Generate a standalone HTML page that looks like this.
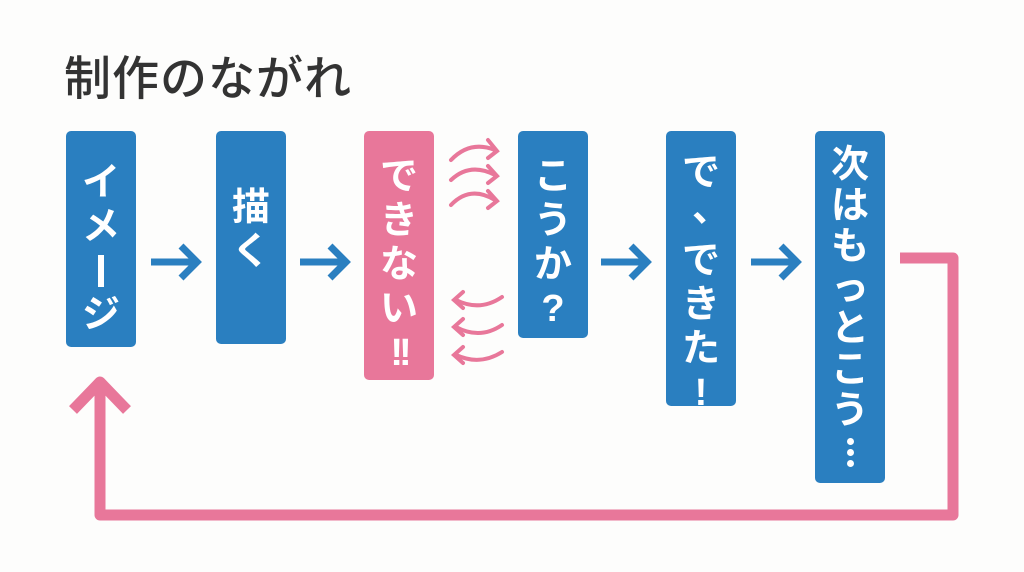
<!DOCTYPE html>
<html><head><meta charset="utf-8"><style>
html,body{margin:0;padding:0;background:#fdfdfc;}
body{width:1024px;height:572px;position:relative;overflow:hidden;font-family:"Liberation Sans","Noto Sans CJK JP",sans-serif;}
.t{position:absolute;left:64px;top:40px;font-size:47px;color:#333;font-weight:500;letter-spacing:1px;}
.b{position:absolute;width:70px;background:#2a7fc0;border-radius:5px;color:#fff;font-weight:bold;font-size:38px;box-sizing:border-box;padding-top:22px;overflow:hidden;}
.b div{height:44px;line-height:44px;text-align:center;position:relative;}
.p{background:#e8779a;}
.bar{position:absolute;left:32px;top:6px;width:6px;height:32px;background:#fff;}
.dot{position:absolute;display:block;left:32px;width:7px;height:7px;border-radius:50%;background:#fff;}
.n div{height:41px;line-height:41px;}
svg{position:absolute;left:0;top:0;}
</style></head><body>
<div class="t">制作のながれ</div>
<div class="b" style="left:66px;top:131px;height:216px;padding-top:30px;"><div>イ</div><div>メ</div><div><span class="bar"></span></div><div>ジ</div></div>
<div class="b" style="left:216px;top:131px;height:213px;padding-top:55px;"><div>描</div><div>く</div></div>
<div class="b p" style="left:364px;top:131px;height:249px;padding-top:24px;"><div>で</div><div>き</div><div>な</div><div>い</div><div style="letter-spacing:-4px">!&#8203;!</div></div>
<div class="b" style="left:518px;top:131px;height:207px;padding-top:24px;"><div>こ</div><div>う</div><div>か</div><div>?</div></div>
<div class="b" style="left:666px;top:131px;height:275px;padding-top:20px;"><div>で</div><div><span style="position:absolute;left:26px;top:-8px">、</span></div><div>で</div><div>き</div><div>た</div><div>!</div></div>
<div class="b n" style="left:815px;top:131px;height:352px;padding-top:14px;"><div>次</div><div>は</div><div>も</div><div>っ</div><div>と</div><div>こ</div><div>う</div><div style="height:40px"><span class="dot" style="top:6px"></span><span class="dot" style="top:17px"></span><span class="dot" style="top:28px"></span></div></div>
<svg width="1024" height="572" fill="none">
<g stroke="#2a7fc0" stroke-width="7">
<path d="M151 262H196M181 246L197 262L181 278"/>
<path d="M300 262H345M330 246L346 262L330 278"/>
<path d="M601 262H646M631 246L647 262L631 278"/>
<path d="M751 262H796M781 246L797 262L781 278"/>
</g>
<g stroke="#e8779a" stroke-width="11" stroke-linejoin="round">
<path d="M900 258H953V515H100V382"/>
<path d="M73 410L100 382L127 410"/>
</g>
<g stroke="#e8779a" stroke-width="4" stroke-linecap="round">
<path d="M451 160Q470 140 495 150M488 140L497 151L488 158"/>
<path d="M451 180Q470 162 495 175M488 166L497 176L488 183"/>
<path d="M451 205Q470 185 495 200M488 191L497 201L488 208"/>
<path d="M502 297Q480 312 456 300M463 292L454 300L463 308"/>
<path d="M502 325Q480 340 456 327M463 319L454 327L463 335"/>
<path d="M502 352Q480 366 456 355M463 347L454 355L463 363"/>
</g>
</svg>
</body></html>
